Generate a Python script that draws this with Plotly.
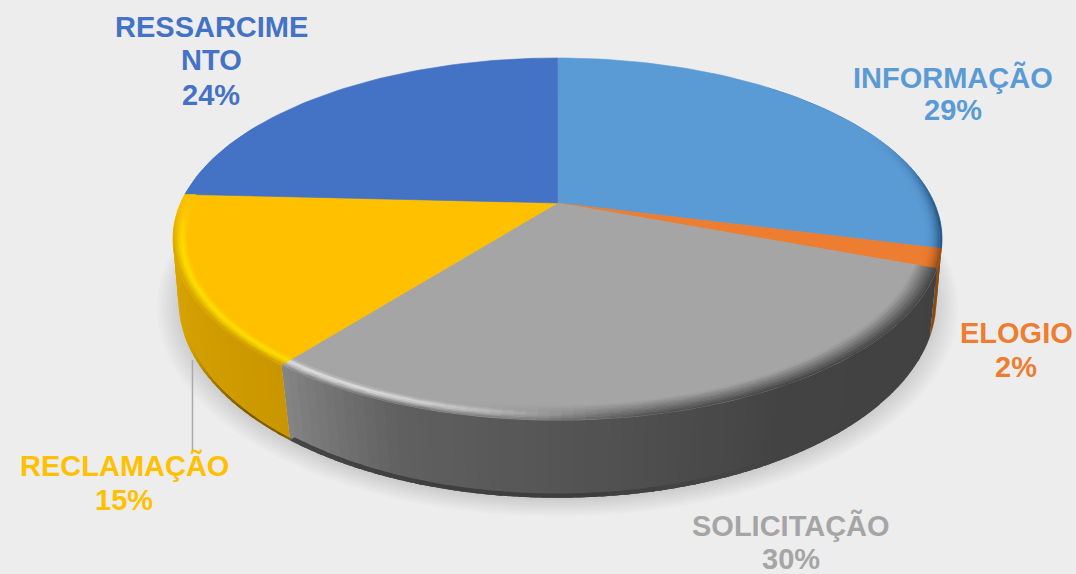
import math
from collections import defaultdict
import plotly.graph_objects as go

categories = ["INFORMAÇÃO", "ELOGIO", "SOLICITAÇÃO", "RECLAMAÇÃO", "RESSARCIMENTO"]
values = [29.0, 1.7, 29.9, 15.2, 24.2]
label_lines = [["INFORMAÇÃO", "29%"], ["ELOGIO", "2%"], ["SOLICITAÇÃO", "30%"],
               ["RECLAMAÇÃO", "15%"], ["RESSARCIME", "NTO", "24%"]]
colors = ["#5B9BD5", "#ED7D31", "#A5A5A5", "#FFC000", "#4472C4"]
label_x = [953, 1016, 791, 124, 211]
label_y = [[77, 110], [333, 367], [525, 559], [465, 500], [27, 60, 95]]

BG = "#EDEDED"
CX, CY, A, B, K = 557.5, 203.0, 376.8, 173.9, 0.199
BX, BY, BA, BB, BK = 557.5, 266.0, 373.0, 191.0, 0.176


def top(theta, r=1.0):
    t = math.radians(theta)
    u, v = r * math.sin(t), r * math.cos(t)
    d = 1 + K * v
    return CX + A * u / d, CY - B * v / d


def bottom(theta, r=1.0):
    t = math.radians(theta)
    u, v = r * math.sin(t), r * math.cos(t)
    d = 1 + BK * v
    return BX + BA * u / d, BY - BB * v / d


def rgb(h):
    return tuple(int(h[i:i + 2], 16) for i in (1, 3, 5))


def mix(c1, c2, t):
    t = max(0.0, min(1.0, t))
    a, b = rgb(c1), rgb(c2)
    return "#%02X%02X%02X" % tuple(round(x + (y - x) * t) for x, y in zip(a, b))


def sstep(a, b, x):
    t = max(0.0, min(1.0, (x - a) / (b - a)))
    return t * t * (3 - 2 * t)


def stops(table, x):
    if x <= table[0][0]:
        return table[0][1]
    for (x0, c0), (x1, c1) in zip(table, table[1:]):
        if x <= x1:
            return mix(c0, c1, (x - x0) / (x1 - x0))
    return table[-1][1]


WALLS = [
    [(0, "#1F4E79"), (120, "#1F4E79")],
    [(0, "#8A4A12"), (120, "#8A4A12")],
    [(105, "#414141"), (150, "#434343"), (180, "#555555"), (200, "#606060"), (212, "#777777"), (222, "#8E8E8E")],
    [(215, "#C89500"), (245, "#D4A000"), (280, "#E0AA00")],
    [(270, "#4472C4"), (360, "#4472C4")],
]
HILITE = ["#5B9BD5", "#ED7D31", "#E4E4E4", "#FFE000", "#4472C4"]

edges = [0.0]
for val in values:
    edges.append(edges[-1] + val * 360.0 / sum(values))

fig = go.Figure()
polys = defaultdict(list)


def add_poly(color, pts):
    polys[color].append(pts)


def flush(width=0.0):
    for col, plist in polys.items():
        xs, ys = [], []
        for p in plist:
            xs += [q[0] for q in p] + [p[0][0], None]
            ys += [q[1] for q in p] + [p[0][1], None]
        fig.add_trace(go.Scatter(x=xs, y=ys, mode="lines", fill="toself", fillcolor=col,
                                 line=dict(color=col, width=width), hoverinfo="skip",
                                 showlegend=False))
    polys.clear()


# soft shadow under the pie
for i in range(8):
    sc = 1.055 - i * 0.008
    pts = [(lambda p: (p[0], p[1] + 3))(bottom(a, sc)) for a in range(0, 360, 3)]
    fig.add_trace(go.Scatter(x=[p[0] for p in pts] + [pts[0][0]], y=[p[1] for p in pts] + [pts[0][1]],
                             mode="lines", fill="toself", fillcolor="rgba(0,0,0,0.016)",
                             line=dict(width=0), hoverinfo="skip", showlegend=False))

# side wall: each quad overlaps the next one so that no seam shows
STEP = 1.5
for s, (a0, a1) in enumerate(zip(edges, edges[1:])):
    a = max(a0, 40.0)
    end = min(a1, 300.0)
    while a < end:
        b = min(a + STEP, end)
        over = min(b + 1.0, end)
        add_poly(stops(WALLS[s], (a + b) / 2), [top(a), top(over), bottom(over), bottom(a)])
        a = b
flush()
# darker foot of the wall
for s, (a0, a1) in enumerate(zip(edges, edges[1:])):
    a = max(a0, 130.0)
    end = min(a1, 250.0)
    while a < end:
        b = min(a + STEP, end)
        over = min(b + 1.0, end)
        m = (a + b) / 2
        foot = sstep(145, 180, m) * (1 - sstep(225, 250, m))
        inner = 0.985 if s == 2 else 0.994
        col = mix(stops(WALLS[s], m), "#3A3A3A" if s == 2 else "#6E5000", 0.85 * foot)
        add_poly(col, [bottom(a, inner), bottom(over, inner), bottom(over), bottom(a)])
        a = b
flush()

# top faces
for s, (a0, a1) in enumerate(zip(edges, edges[1:])):
    n = max(2, int((a1 - a0) / 1.5))
    pts = [top(0.0, 0.0)] + [top(a0 + (a1 - a0) * i / n) for i in range(n + 1)]
    add_poly(colors[s], pts)
flush(0.6)

# rounded rim of the top faces
R0, NR = 0.945, 11
RINGS = [R0 + (1.0 - R0) * i / NR for i in range(NR + 1)]
for s, (a0, a1) in enumerate(zip(edges, edges[1:])):
    a = a0
    while a < a1:
        b = min(a + STEP, a1)
        m = (a + b) / 2
        wall = stops(WALLS[s], m)
        hl = sstep(172, 208, m) * (1 - sstep(255, 275, m))
        dk = sstep(62, 98, m) * (1 - sstep(165, 200, m))
        power = 3.0 if s < 2 else 1.0
        for r0, r1 in zip(RINGS, RINGS[1:]):
            t = ((r0 + r1) / 2 - R0) / (1.0 - R0)
            c = mix(colors[s], wall, dk * t ** power)
            if hl > 0:
                if t < 0.35:
                    c2 = colors[s]
                elif t < 0.62:
                    c2 = mix(colors[s], HILITE[s], (t - 0.35) / 0.27)
                else:
                    c2 = mix(HILITE[s], wall, (t - 0.62) / 0.38)
                c = mix(c, c2, hl)
            if c != colors[s]:
                add_poly(c, [top(a, r0), top(b, r0), top(b, r1), top(a, r1)])
        a = b
flush(0.5)

# leader line of RECLAMAÇÃO
fig.add_trace(go.Scatter(x=[192.5, 192.5], y=[360, 452], mode="lines",
                         line=dict(color="#ABABAB", width=1.5), hoverinfo="skip", showlegend=False))

for lines, lx, lys, col in zip(label_lines, label_x, label_y, colors):
    for line, ly in zip(lines, lys):
        fig.add_annotation(x=lx, y=ly, text=line, showarrow=False, xanchor="center", yanchor="middle",
                           font=dict(family="Liberation Sans", size=29, color=col, weight="bold"))

fig.update_layout(width=1076, height=574, margin=dict(l=0, r=0, t=0, b=0), paper_bgcolor=BG,
                  plot_bgcolor=BG, showlegend=False,
                  xaxis=dict(range=[0, 1076], visible=False, fixedrange=True),
                  yaxis=dict(range=[574, 0], visible=False, fixedrange=True))
fig.write_html("out.html", config={"displayModeBar": False},
               post_script="document.body.style.margin='0';document.body.style.overflow='hidden';")
